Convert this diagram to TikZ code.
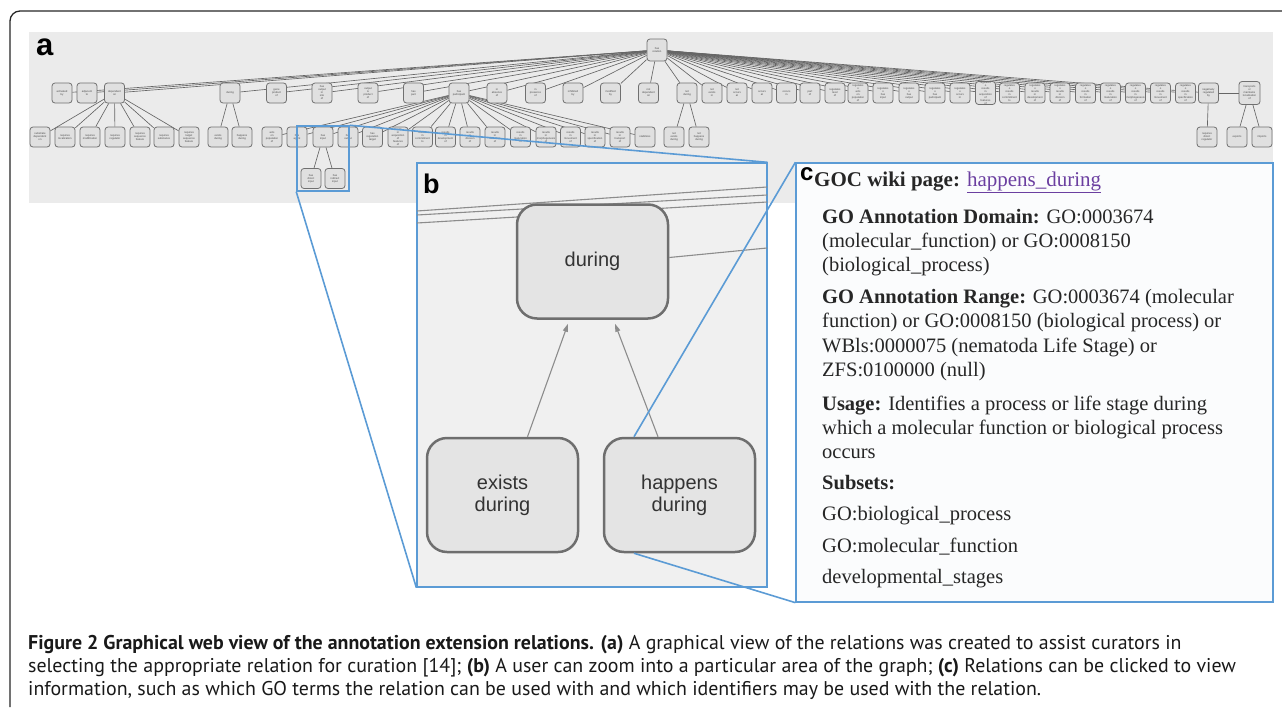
\documentclass[tikz,border=0pt]{standalone}
\usepackage{fontspec}
\setmainfont{Liberation Serif}
\setsansfont{Liberation Sans}
\newfontfamily\capfont{PT Sans}
\usetikzlibrary{calc,arrows.meta}
\pgfdeclarelayer{back}
\pgfdeclarelayer{edges}
\pgfsetlayers{back,edges,main}
\definecolor{panelgray}{HTML}{EBEBEB}
\definecolor{pbgray}{HTML}{F0F0F0}
\definecolor{pcwhite}{HTML}{FBFCFD}
\definecolor{blueln}{HTML}{5B9BD5}
\definecolor{nodefill}{HTML}{E0E0E0}
\definecolor{nodeline}{HTML}{707070}
\definecolor{bigfill}{HTML}{E4E4E4}
\definecolor{bigline}{HTML}{6E6E6E}
\definecolor{linkpurple}{HTML}{6B3FA0}
\tikzset{
  tn/.style={draw=nodeline, fill=nodefill, rounded corners=3pt, line width=0.8pt,
    minimum width=20pt, minimum height=20pt, inner sep=0pt, align=center,
    font=\sffamily\fontsize{2.7}{3.0}\selectfont, text=black!70},
  ed/.style={draw=black!60, line width=0.65pt},
  bignode/.style={draw=bigline, fill=bigfill, line width=2.5pt, rounded corners=20pt,
    minimum width=151pt, minimum height=114pt, align=center,
    font=\sffamily\fontsize{20}{22}\selectfont, text=black!80},
  garrow/.style={draw=black!45, line width=1.1pt, -{Triangle[length=8pt,width=5pt]}},
  bluelink/.style={draw=blueln, line width=1.6pt},
  ctext/.style={anchor=base west, inner sep=0pt, font=\fontsize{20.5}{24}\selectfont, text=black!85},
  captext/.style={anchor=base west, inner sep=0pt, font=\capfont\fontsize{19.9}{23}\selectfont, text=black!90},
  plabel/.style={anchor=base west, inner sep=0pt, font=\sffamily\bfseries, text=black}
}
\begin{document}
\begin{tikzpicture}[x=1pt,y=-1pt]
\useasboundingbox (0,0) rectangle (1282,707);
% outer frame
\draw[line width=1.3pt, black!85, rounded corners=10pt] (10,707) -- (10,11) -- (1282,11);
% panel a background
\begin{pgfonlayer}{back}
  \fill[panelgray] (29,32) rectangle (1273,203);
\end{pgfonlayer}
% root
\node[tn, minimum height=22pt] (root) at (657,50) {has\\relation};
% row 1
\foreach \n/\x/\t in {
  a1/62/{activated\\by}, a2/87/{adjacent\\to}, a3/114.5/{dependent\\on},
  b1/230/{during}, c1/276.5/{gene\\product\\of}, d1/322/{has\\output\\in\\site\\of},
  e1/368/{output\\is\\product\\of}, f1/413.5/{has\\part}, g1/459/{has\\participant},
  h1/497/{in\\absence\\of}, i1/535.5/{in\\presence\\of}, j1/573/{inhibited\\by},
  k1/610.5/{modified\\by}, l1/648.5/{not\\dependent\\on}, m1/687/{not\\during},
  n1/712/{not\\exists\\in}, o1/737/{not\\occurs\\at}, p1/762/{occurs\\at},
  q1/786.5/{occurs\\in}, r1/810/{part\\of}, s1/835/{regulates\\level\\of},
  t1/858/{regulates\\o\\acts\\on\\population\\of}, u1/883/{regulates\\o\\has\\input},
  v1/909/{regulates\\o\\has\\output}, w1/935/{regulates\\o\\has\\participant},
  x1/960/{regulates\\o\\occurs\\in},
  y1/985.5/{regulates\\o\\results\\in\\acquisition\\of\\features\\of},
  z1/1009.5/{regulates\\o\\results\\in\\commitment\\to},
  aa1/1035/{regulates\\o\\results\\in\\development\\of},
  ab1/1060/{regulates\\o\\results\\in\\division\\of},
  ac1/1085.5/{regulates\\o\\results\\in\\formation\\of},
  ad1/1110.5/{regulates\\o\\results\\in\\maturation\\of},
  ae1/1135.5/{regulates\\o\\results\\in\\morphogenesis\\of},
  af1/1160.5/{regulates\\o\\results\\in\\movement\\of},
  ag1/1185.5/{regulates\\o\\results\\in\\specification\\of},
  ah1/1208.5/{negatively\\regulated\\by}}
  \node[tn] (\n) at (\x,93) {\t};
\node[tn, minimum width=21pt, minimum height=23pt] (ai1) at (1249.5,93) {transports\\or\\maintains\\localization\\of};
% row 2
\foreach \n/\x/\t in {
  d21/40/{substrate\\dependent\\on}, d22/65/{requires\\localization},
  d23/90/{requires\\modification}, d24/115/{requires\\regulator},
  d25/140/{requires\\sequence\\feature}, d26/164/{requires\\substance},
  d27/189/{requires\\target\\sequence\\feature},
  e21/218/{exists\\during}, e22/242/{happens\\during},
  gp1/272/{acts\\on\\population\\of}, gp2/297/{has\\agent}, gp3/323/{has\\input},
  gp4/348/{has\\output}, gp5/372.5/{has\\regulation\\target},
  gp6/398/{results\\in\\acquisition\\of\\features\\of}, gp7/422.5/{results\\in\\commitment\\to},
  gp8/445.5/{results\\in\\development\\of}, gp9/470/{results\\in\\division\\of},
  gp10/495/{results\\in\\formation\\of}, gp11/520.5/{results\\in\\maturation\\of},
  gp12/546/{results\\in\\morphogenesis\\of}, gp13/570.5/{results\\in\\movement\\of},
  gp14/595/{results\\in\\specification\\of}, gp15/620/{results\\in\\transport\\of},
  gp16/645/{stabilizes},
  m21/674/{not\\exists\\during}, m22/699/{not\\happens\\during},
  ah2/1207/{requires\\direct\\regulator}, ai21/1237/{exports}, ai22/1262/{imports}}
  \node[tn] (\n) at (\x,137) {\t};
% row 3
\node[tn] (hi1) at (311,178.5) {has\\direct\\input};
\node[tn] (hi2) at (335,178.5) {has\\indirect\\input};
% edges of panel a
\begin{pgfonlayer}{edges}
  \foreach \n in {a1,a2,a3,b1,c1,d1,e1,f1,g1,h1,i1,j1,k1,l1,m1,n1,o1,p1,q1,r1,s1,
    t1,u1,v1,w1,x1,y1,z1,aa1,ab1,ac1,ad1,ae1,af1,ag1,ah1}
    \draw[ed] (root) -- (\n);
  \foreach \n in {d21,d22,d23,d24,d25,d26,d27} \draw[ed] (a3) -- (\n);
  \foreach \n in {e21,e22} \draw[ed] (b1) -- (\n);
  \foreach \n in {gp1,gp2,gp3,gp4,gp5,gp6,gp7,gp8,gp9,gp10,gp11,gp12,gp13,gp14,gp15,gp16}
    \draw[ed] (g1) -- (\n);
  \foreach \n in {hi1,hi2} \draw[ed] (gp3) -- (\n);
  \foreach \n in {m21,m22} \draw[ed] (m1) -- (\n);
  \draw[ed] (ah1) -- (ai1);
  \draw[ed] (ah1) -- (ah2);
  \foreach \n in {ai21,ai22} \draw[ed] (ai1) -- (\n);
\end{pgfonlayer}
\node[plabel, font=\sffamily\bfseries\fontsize{31}{31}\selectfont] (la) at (36,55) {a};
% highlight box
\node[draw=blueln, line width=1.5pt, minimum width=52pt, minimum height=65pt, inner sep=0pt] (hl) at (323,158.5) {};
% panel b
\node[draw=blueln, fill=pbgray, line width=1.3pt, minimum width=350pt, minimum height=424pt, inner sep=0pt] (pb) at (592,375) {};
\begin{scope}
  \clip (417,163) rectangle (767,587);
  \draw[black!45, line width=1.1pt] (417,211) -- (767,187);
  \draw[black!45, line width=1.1pt] (417,215) -- (767,195);
  \draw[black!45, line width=1.1pt] (417,223) -- (767,202);
\end{scope}
\node[bignode] (during) at (592.5,261.5) {during};
\node[bignode] (exists) at (502.5,495) {exists\\during};
\node[bignode] (happens) at (679.5,495) {happens\\during};
\coordinate (bedge) at (767,248);
\draw[black!45, line width=1.1pt] ($(during.east)+(0,-4)$) -- (bedge);
\draw[garrow] ($(exists.north)+(25,0)$) -- ($(during.south)+(-24.5,4)$);
\draw[garrow] ($(happens.north)+(-21.5,0)$) -- ($(during.south)+(22.5,4)$);
\node[plabel, font=\sffamily\bfseries\fontsize{27}{27}\selectfont] (lb) at (423,193) {b};
% panel c
\node[draw=blueln, fill=pcwhite, line width=1.3pt, minimum width=477pt, minimum height=439pt, inner sep=0pt] (pc) at (1034.5,382.5) {};
\node[plabel, font=\sffamily\bfseries\fontsize{24}{24}\selectfont] (lc) at (800,180) {c};
\node[ctext, font=\fontsize{21}{24}\selectfont] (c0) at (814,186) {\textbf{GOC wiki page:} \textcolor{linkpurple}{\underline{happens\_during}}};
\node[ctext] (c1t) at (822,223) {\textbf{GO Annotation Domain:} GO:0003674};
\node[ctext] (c2t) at (822,247) {(molecular\_function) or GO:0008150};
\node[ctext] (c3t) at (822,271) {(biological\_process)};
\node[ctext] (c4t) at (822,303) {\textbf{GO Annotation Range:} GO:0003674 (molecular};
\node[ctext] (c5t) at (822,327) {function) or GO:0008150 (biological process) or};
\node[ctext] (c6t) at (822,352) {WBls:0000075 (nematoda Life Stage) or};
\node[ctext] (c7t) at (822,376) {ZFS:0100000 (null)};
\node[ctext] (c8t) at (822,410) {\textbf{Usage:} Identifies a process or life stage during};
\node[ctext] (c9t) at (822,434) {which a molecular function or biological process};
\node[ctext] (c10t) at (822,458) {occurs};
\node[ctext] (c11t) at (822,489) {\textbf{Subsets:}};
\node[ctext] (c12t) at (822,520) {GO:biological\_process};
\node[ctext] (c13t) at (822,552) {GO:molecular\_function};
\node[ctext] (c14t) at (822,583) {developmental\_stages};
% blue zoom connectors
\draw[bluelink] (hl.south west) -- (pb.south west);
\draw[bluelink] (hl.north east) -- (pb.north east);
\draw[bluelink] (happens.128) -- (pc.north west);
\draw[bluelink] (happens.232) -- (pc.south west);
% caption
\node[captext] (cap1) at (28,649) {\textbf{Figure 2 Graphical web view of the annotation extension relations. (a)} A graphical view of the relations was created to assist curators in};
\node[captext] (cap2) at (28,672) {selecting the appropriate relation for curation [14]; \textbf{(b)} A user can zoom into a particular area of the graph; \textbf{(c)} Relations can be clicked to view};
\node[captext] (cap3) at (28,695) {information, such as which GO terms the relation can be used with and which identifiers may be used with the relation.};
\end{tikzpicture}
\end{document}
